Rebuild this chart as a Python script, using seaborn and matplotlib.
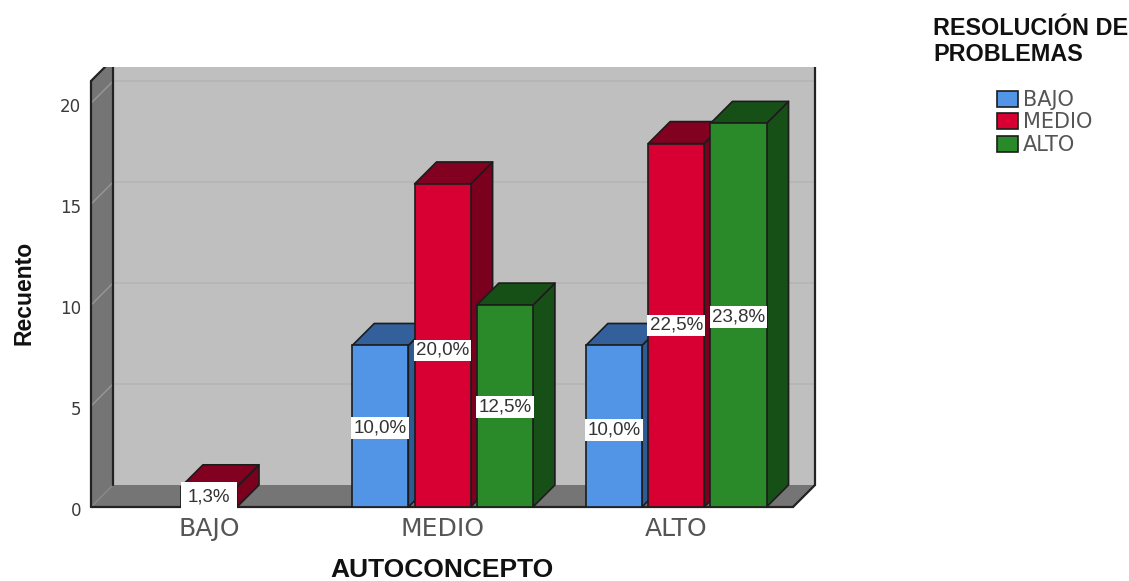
import numpy as np
import pandas as pd
import matplotlib
matplotlib.use("Agg")
import matplotlib.pyplot as plt
from matplotlib.patches import Polygon, Rectangle
from matplotlib.transforms import ScaledTranslation
import seaborn as sns

# ---- data ----
categories = ["BAJO", "MEDIO", "ALTO"]
series = ["BAJO", "MEDIO", "ALTO"]
serie_bajo = [np.nan, 8, 8]
serie_medio = [1, 16, 18]
serie_alto = [np.nan, 10, 19]
pct_bajo = [None, "10,0%", "10,0%"]
pct_medio = ["1,3%", "20,0%", "22,5%"]
pct_alto = [None, "12,5%", "23,8%"]
y_ticks = [0, 5, 10, 15, 20]
x_title = "AUTOCONCEPTO"
y_title = "Recuento"
legend_title = "RESOLUCIÓN DE\nPROBLEMAS"

# ---- style ----
front = {"BAJO": "#5294E6", "MEDIO": "#D80032", "ALTO": "#2A8A2A"}
top_c = {"BAJO": "#33609A", "MEDIO": "#820020", "ALTO": "#175017"}
side_c = {"BAJO": "#2F5A92", "MEDIO": "#7A001E", "ALTO": "#175017"}
WALL, FLOOR, BACK = "#757575", "#757575", "#BFBFBF"
EDGE = "#1C1C1C"
TEXT = "#555555"
# small hand placement of the value labels, in pixels below the bar's middle
label_shift_px = {"BAJO": [0, 2, 4], "MEDIO": [0, 5, 0], "ALTO": [0, 1, 2]}

sns.set_theme(style="white")
plt.rcParams["font.family"] = ["Liberation Sans", "DejaVu Sans"]

W, H = 1129, 581
fig = plt.figure(figsize=(W / 100, H / 100), dpi=100, facecolor="white")
ax = fig.add_axes([91 / W, (H - 507) / H, 702 / W, 426 / H])

df = pd.DataFrame({
    "cat": np.repeat(categories, 3),
    "serie": series * 3,
    "valor": [v for c in zip(serie_bajo, serie_medio, serie_alto) for v in c],
})
sns.barplot(data=df, x="cat", y="valor", hue="serie", order=categories,
            hue_order=series, palette=front, saturation=1, width=0.8, gap=0.1,
            edgecolor=EDGE, linewidth=1.2, ax=ax, zorder=3)

ax.set_xlim(-0.505, 2.5)
ax.set_ylim(0, 21.1)
ax.patch.set_visible(False)
sns.despine(ax=ax, left=True, bottom=True)

# depth of the 3D look, in data units (22 px each way)
sx = 702 / (ax.get_xlim()[1] - ax.get_xlim()[0])
sy = 426 / ax.get_ylim()[1]
dx, dy = 22 / sx, 22 / sy
x0, x1 = ax.get_xlim()
y1 = ax.get_ylim()[1]


def poly(pts, fc, z, ec="none", lw=0):
    ax.add_patch(Polygon(pts, closed=True, facecolor=fc, edgecolor=ec,
                         linewidth=lw, zorder=z, clip_on=False, joinstyle="round"))


# walls
poly([(x0 + dx, dy), (x1 + dx, dy), (x1 + dx, y1 + dy), (x0 + dx, y1 + dy)], BACK, 1)
poly([(x0, 0), (x0 + dx, dy), (x0 + dx, y1 + dy), (x0, y1)], WALL, 1.1)
poly([(x0, 0), (x1, 0), (x1 + dx, dy), (x0 + dx, dy)], FLOOR, 1.1)
for t in y_ticks[1:]:
    ax.plot([x0 + dx, x1 + dx], [t + dy, t + dy], color="#B6B6B6", lw=1.4, zorder=1.05, clip_on=False)
    ax.plot([x0, x0 + dx], [t, t + dy], color="#989898", lw=1.0, zorder=1.15, clip_on=False)
ax.plot([x0, x0 + dx], [0, dy], color="#8A8A8A", lw=1.0, zorder=1.2, clip_on=False)
line = dict(color="#222222", lw=1.6, zorder=1.3, clip_on=False, solid_capstyle="round")
ax.plot([x0, x0], [0, y1], **line)
ax.plot([x0 + dx, x0 + dx], [dy, y1 + dy], **line)
ax.plot([x0, x0 + dx], [y1, y1 + dy], **line)
ax.plot([x0, x1], [0, 0], **line)
ax.plot([x1, x1 + dx], [0, dy], **line)
ax.plot([x1 + dx, x1 + dx], [dy, y1 + dy], **line)

# hide what rises above the cut-off plot area
ax.add_patch(Rectangle((85 / W, (H - 67) / H), 745 / W, 60 / H, transform=fig.transFigure,
                       facecolor="white", edgecolor="none", zorder=20, clip_on=False))

# extrude bars, left to right
pcts = dict(zip(series, [pct_bajo, pct_medio, pct_alto]))
bars = []
for s, cont in zip(series, ax.containers):
    for b in cont:
        if b.get_height() > 0:
            bars.append((b.get_x(), s, b))
bars.sort(key=lambda r: r[0])
for i, (bx, s, b) in enumerate(bars):
    z = 3 + i * 0.1
    w, h = b.get_width(), b.get_height()
    poly([(bx + w, 0), (bx + w + dx, dy), (bx + w + dx, h + dy), (bx + w, h)], side_c[s], z, EDGE, 1.2)
    poly([(bx, h), (bx + w, h), (bx + w + dx, h + dy), (bx + dx, h + dy)], top_c[s], z, EDGE, 1.2)
    b.set_zorder(z + 0.05)
    cx = bx + w / 2
    k = int(round(cx))
    shift = label_shift_px[s][k] / sy
    pad = 0.35 if h < 2 else 0.12     # the short bar's label covers its whole front
    ax.text(cx, h / 2 - shift, pcts[s][k], ha="center", va="center", fontsize=13.5, color="#333333",
            zorder=10, bbox=dict(boxstyle=f"square,pad={pad}", fc="white", ec="none"))

# axes text
ax.set_yticks(y_ticks)
ax.set_xlabel(x_title, fontsize=19, fontweight="bold", color="#111111")
ax.xaxis.set_label_coords(0.5, -0.148)
ax.xaxis.label.set_verticalalignment("center")
ax.set_ylabel(y_title, fontsize=16.5, fontweight="bold", color="#111111")
ax.yaxis.set_label_coords(-0.096, 0.503)
ax.yaxis.label.set_verticalalignment("center")
ax.tick_params(axis="y", length=0, pad=7, labelsize=12, labelcolor="#3A3A3A")
ax.tick_params(axis="x", length=0, pad=7, labelsize=18, labelcolor=TEXT)
offset = ScaledTranslation(0, -2 / 100, fig.dpi_scale_trans)
for lab in ax.get_yticklabels():
    lab.set_family("DejaVu Sans")
    lab.set_transform(lab.get_transform() + offset)
for lab in ax.get_xticklabels():
    lab.set_family("DejaVu Sans")

# legend
fig.text(933 / W, 1 - 17 / H, legend_title, ha="left", va="top", fontsize=16.8,
         fontweight="bold", color="#111111", linespacing=1.15)
sns.move_legend(ax, loc="upper left", bbox_to_anchor=(997 / W, 1 - 90 / H),
                bbox_transform=fig.transFigure, title=None, frameon=False,
                fontsize=15, handlelength=1.0, handleheight=0.8, labelspacing=0.12,
                handletextpad=0.25, borderpad=0, borderaxespad=0)
for t in ax.get_legend().get_texts():
    t.set_family("DejaVu Sans")
    t.set_color(TEXT)
ax.get_legend().set_zorder(30)

fig.savefig("out.png", dpi=100, facecolor="white")
